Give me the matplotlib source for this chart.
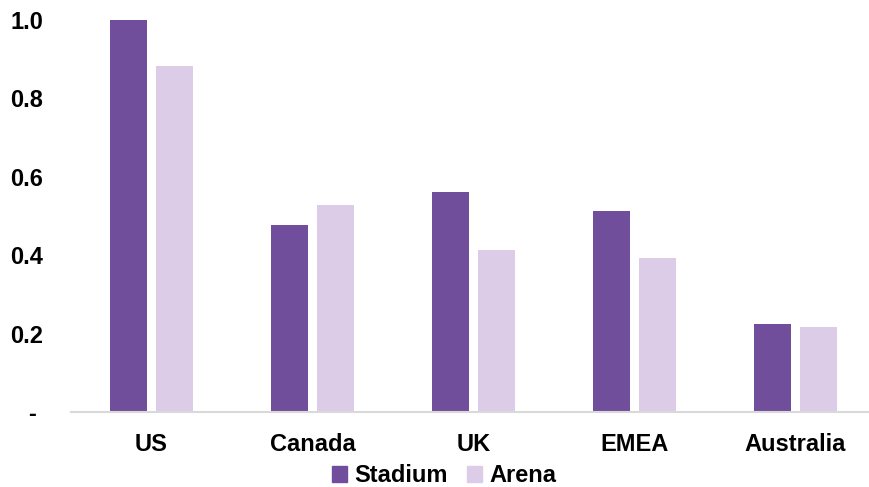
import matplotlib
matplotlib.use("Agg")
import matplotlib.pyplot as plt
import numpy as np
from matplotlib.patches import Patch

categories = ["US", "Canada", "UK", "EMEA", "Australia"]
stadium = [1.0, 0.477, 0.561, 0.513, 0.224]
arena = [0.883, 0.528, 0.413, 0.393, 0.217]
yticks = [0, 0.2, 0.4, 0.6, 0.8, 1.0]
ytick_labels = ["- ", "0.2", "0.4", "0.6", "0.8", "1.0"]

plt.rcParams['font.family'] = ['Liberation Sans', 'DejaVu Sans']
plt.rcParams['font.weight'] = 'bold'

c_stadium = "#714E9C"
c_arena = "#DCCCE8"

fig = plt.figure(figsize=(8.7, 4.87), dpi=100)
ax = fig.add_axes([71/870, 75/487, 805/870, 392/487])

x = np.arange(len(categories))
w = 0.224
off = 0.143
ax.bar(x - off, stadium, w, color=c_stadium, label="Stadium")
ax.bar(x + off, arena, w, color=c_arena, label="Arena")

ax.set_xlim(-0.5, len(categories) - 0.5)
ax.set_ylim(0, 1.0)
ax.set_yticks(yticks)
ax.set_yticklabels(ytick_labels)
ax.set_xticks(x)
ax.set_xticklabels(categories)
ax.tick_params(axis='y', length=0, pad=20, labelsize=17)
ax.tick_params(axis='x', length=0, pad=15, labelsize=17)
for t in ax.get_yticklabels() + ax.get_xticklabels():
    t.set_fontweight('bold')

for s in ["top", "right", "left"]:
    ax.spines[s].set_visible(False)
ax.spines["bottom"].set_color("#D9D9D9")
ax.spines["bottom"].set_linewidth(1.5)

handles = [Patch(color=c_stadium, label="Stadium"), Patch(color=c_arena, label="Arena")]
fig.legend(handles=handles, loc='center', bbox_to_anchor=(444/870, 1 - 476/487),
           ncol=2, frameon=False, prop={'weight': 'bold', 'size': 17},
           handlelength=0.65, handleheight=0.65, handletextpad=0.3, columnspacing=0.8,
           borderpad=0.1)

fig.savefig("out.png", dpi=100)
